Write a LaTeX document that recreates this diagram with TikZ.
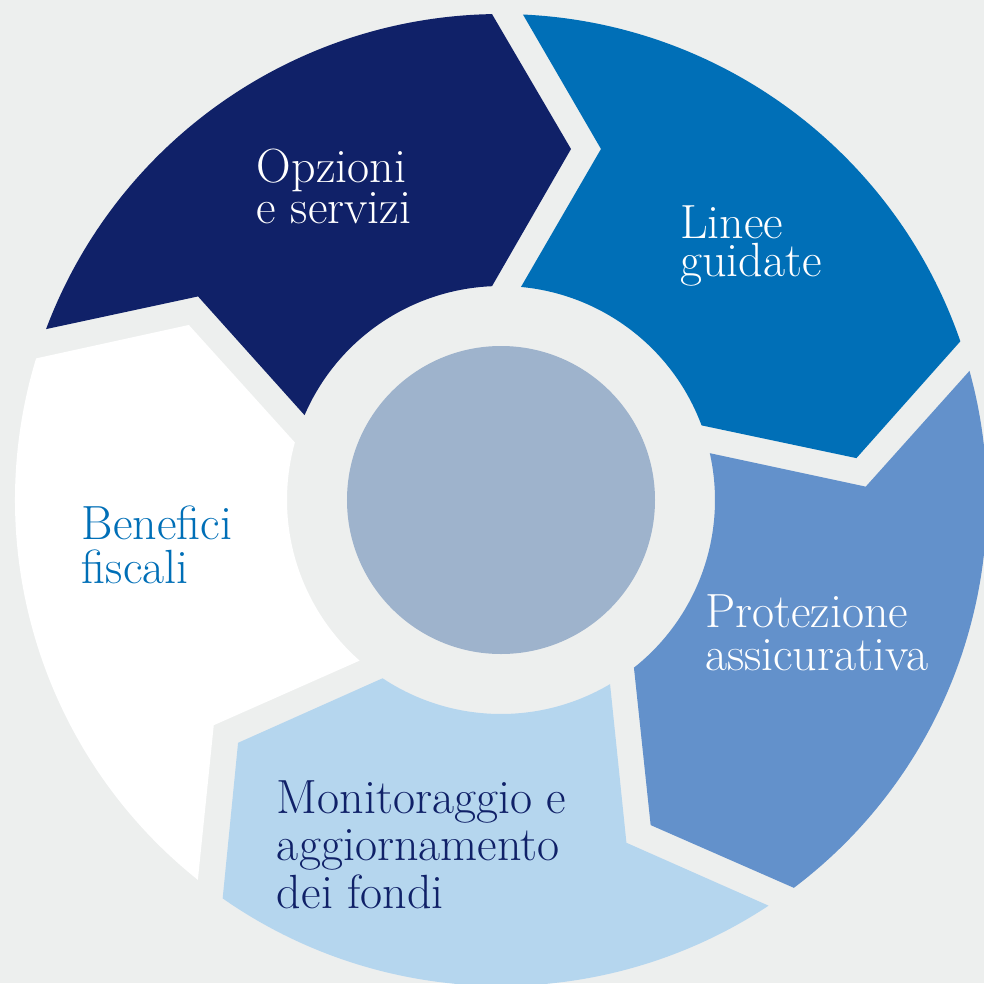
\documentclass[tikz,border=0pt]{standalone}
\usepackage{fontspec}
\definecolor{bgc}{HTML}{EDEFEE}
\definecolor{navy}{HTML}{102168}
\definecolor{mblue}{HTML}{006FB7}
\definecolor{peri}{HTML}{6391CB}
\definecolor{lblue}{HTML}{B5D6EE}
\definecolor{centc}{HTML}{9EB3CC}
\tikzset{
  seg/.style={fill=#1, draw=none},
  lbl/.style={anchor=base west, inner sep=0pt, outer sep=0pt, text height=22pt, text depth=0pt,
    font=\fontsize{48}{48}\selectfont, text=#1},
}
\begin{document}
\begin{tikzpicture}[x=1pt,y=1pt]
\useasboundingbox (-501,-483) rectangle (483,500);
\fill[bgc] (-501,-483) rectangle (483,500);
\begin{scope}
\clip (-501,-483) rectangle (483,500);
\foreach \k/\col in {0/navy,1/mblue,2/peri,3/lblue,4/white}{
  \begin{scope}[rotate={-72*\k}]
    \path[seg=\col] (91.06:486) -- (78.72:357.9) -- (92.41:214)
      arc[start angle=92.41, end angle=156.64, radius=214]
      -- (146.10:365) -- (159.41:486)
      arc[start angle=159.41, end angle=91.06, radius=486] -- cycle;
  \end{scope}
}
\end{scope}
\node[circle, fill=centc, minimum size=308pt, inner sep=0pt] (hub) at (0,0) {};
% labels (image x - 501, 500 - image baseline)
\node[lbl=white] (opz1) at (-244,317) {Opzioni};
\node[lbl=white] (opz2) at (-244,276) {e servizi};
\node[lbl=white] (lin1) at (179,261) {Linee};
\node[lbl=white] (lin2) at (179,223) {guidate};
\node[lbl=white] (pro1) at (204,-127) {Protezione};
\node[lbl=white] (pro2) at (204,-170) {assicurativa};
\node[lbl=navy] (mon1) at (-224,-313) {Monitoraggio e};
\node[lbl=navy] (mon2) at (-224,-360) {aggiornamento};
\node[lbl=navy] (mon3) at (-224,-408) {dei fondi};
\node[lbl=mblue] (ben1) at (-419,-39) {Benefici};
\node[lbl=mblue] (ben2) at (-419,-83) {fiscali};
\end{tikzpicture}
\end{document}
